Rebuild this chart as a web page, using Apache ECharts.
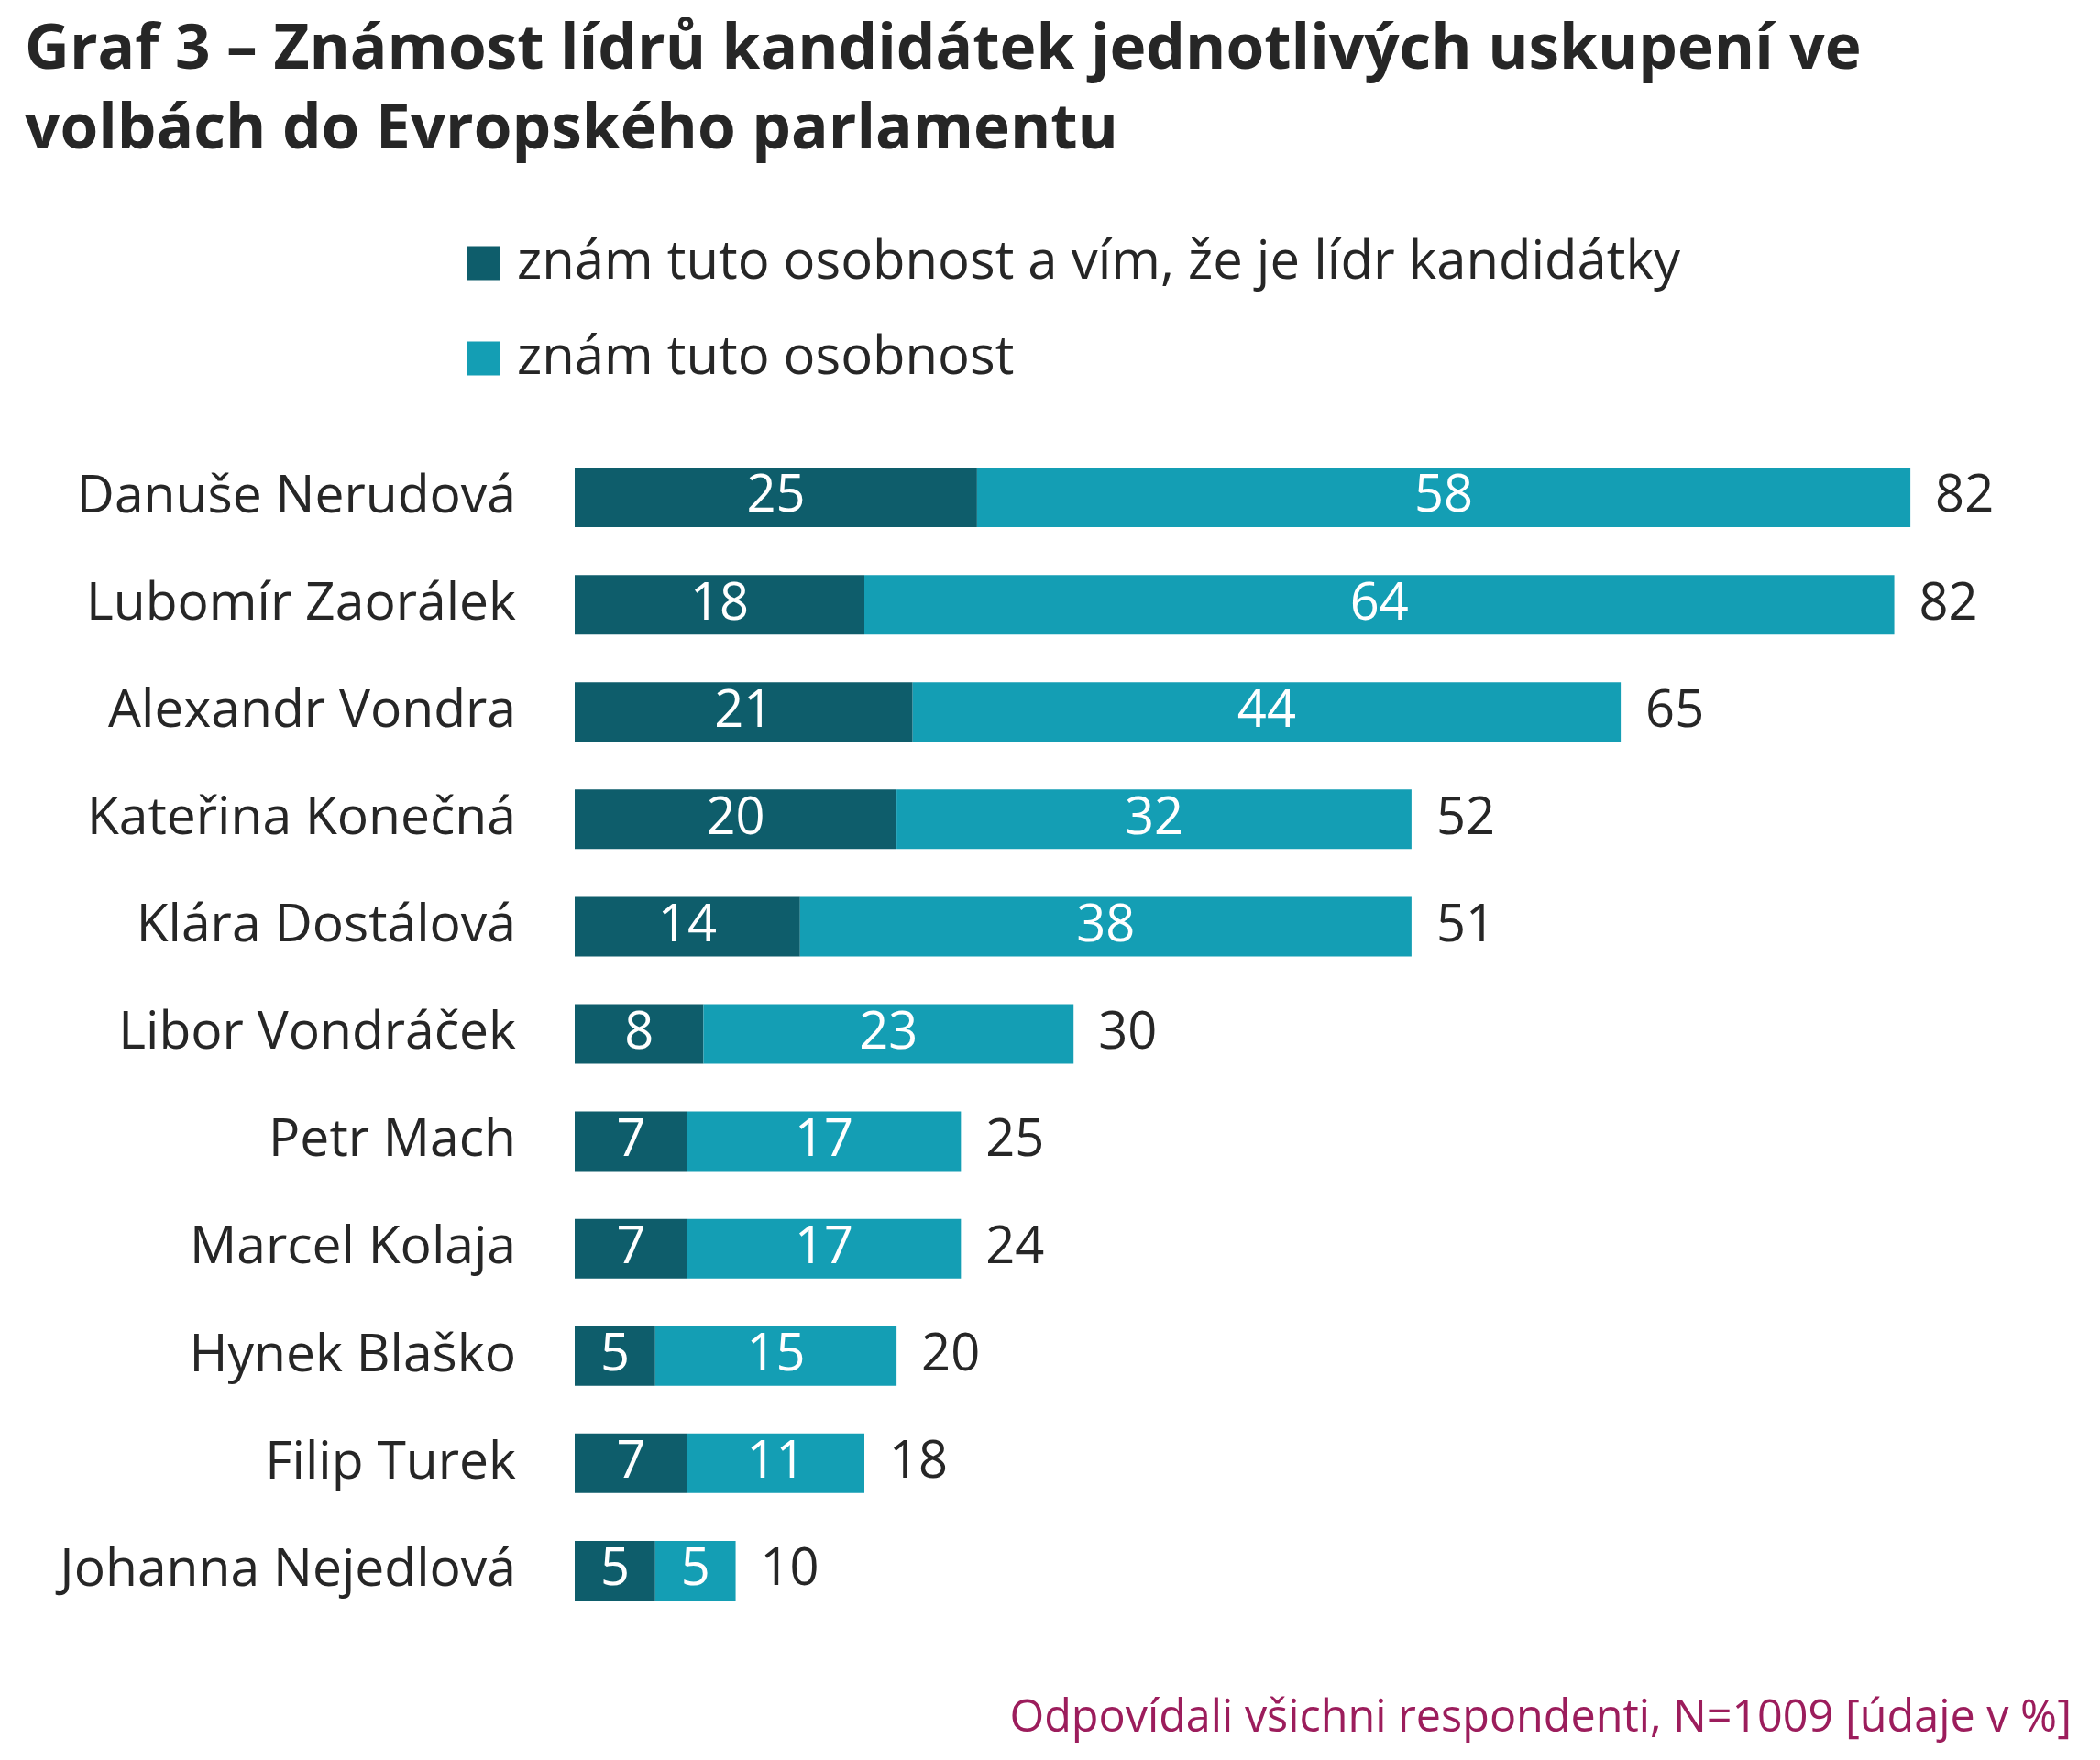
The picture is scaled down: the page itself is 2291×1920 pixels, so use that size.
<!DOCTYPE html>
<html>
<head>
<meta charset="utf-8">
<script src="https://cdn.jsdelivr.net/npm/echarts@6/dist/echarts.min.js"></script>
<style>
  html, body { margin: 0; padding: 0; background: #fff; }
  #chart { width: 2291px; height: 1920px; }
</style>
</head>
<body>
<div id="chart"></div>
<script>
  // data
  var names = ['Danuše Nerudová', 'Lubomír Zaorálek', 'Alexandr Vondra', 'Kateřina Konečná', 'Klára Dostálová',
    'Libor Vondráček', 'Petr Mach', 'Marcel Kolaja', 'Hynek Blaško', 'Filip Turek', 'Johanna Nejedlová']
  var knowLeader = [25, 18, 21, 20, 14, 8, 7, 7, 5, 7, 5]
  var knowPerson = [58, 64, 44, 32, 38, 23, 17, 17, 15, 11, 5]
  var totals = [82, 82, 65, 52, 51, 30, 25, 24, 20, 18, 10]
  var seriesNames = ['znám tuto osobnost a vím, že je lídr kandidátky', 'znám tuto osobnost']

  var font = "'Open Sans', sans-serif"
  var dark = '#0e5d6b'
  var light = '#149eb4'

  var chart = echarts.init(document.getElementById('chart'))
  chart.setOption({
    backgroundColor: '#ffffff',
    animation: false,
    title: [{
      text: 'Graf 3 – Známost lídrů kandidátek jednotlivých uskupení ve\nvolbách do Evropského parlamentu',
      left: 27,
      top: 12,
      padding: 0,
      textStyle: {
        fontFamily: font,
        fontSize: 67.5,
        fontWeight: 'bold',
        lineHeight: 87,
        color: '#262626'
      }
    }, {
      text: 'Odpovídali všichni respondenti, N=1009 [údaje v %]',
      right: 31,
      top: 1851,
      padding: 0,
      textStyle: {
        fontFamily: font,
        fontSize: 48.5,
        fontWeight: 'normal',
        color: '#9c1d5c'
      }
    }],
    legend: {
      data: seriesNames,
      orient: 'vertical',
      left: 509,
      top: 258,
      padding: 0,
      itemWidth: 37,
      itemHeight: 37,
      itemGap: 46,
      icon: 'rect',
      selectedMode: false,
      textStyle: {
        fontFamily: font,
        fontSize: 58,
        lineHeight: 37,
        color: '#262626',
        padding: [0, 0, 0, 13]
      }
    },
    grid: {
      left: 627,
      top: 484,
      height: 1288,
      right: 84,
      containLabel: false
    },
    xAxis: {
      type: 'value',
      min: 0,
      max: 90,
      show: false
    },
    yAxis: {
      type: 'category',
      data: names,
      inverse: true,
      axisLine: { show: false },
      axisTick: { show: false },
      splitLine: { show: false },
      axisLabel: {
        fontFamily: font,
        fontSize: 57,
        color: '#262626',
        margin: 64
      }
    },
    series: [
      {
        name: seriesNames[0],
        type: 'bar',
        stack: 'all',
        barWidth: 65,
        itemStyle: { color: dark },
        label: {
          show: true,
          position: 'inside',
          color: '#ffffff',
          fontFamily: font,
          fontSize: 56
        },
        data: knowLeader
      },
      {
        name: seriesNames[1],
        type: 'bar',
        stack: 'all',
        barWidth: 65,
        itemStyle: { color: light },
        label: {
          show: true,
          position: 'inside',
          color: '#ffffff',
          fontFamily: font,
          fontSize: 56
        },
        data: knowPerson
      },
      {
        // zero-width bar at the end of each stack, only carries the total
        name: 'celkem',
        type: 'bar',
        stack: 'all',
        barWidth: 65,
        silent: true,
        itemStyle: { color: 'transparent' },
        label: {
          show: true,
          position: 'right',
          distance: 27,
          color: '#262626',
          fontFamily: font,
          fontSize: 56,
          formatter: function (p) {
            return totals[p.dataIndex]
          }
        },
        data: names.map(function () { return 0 })
      }
    ]
  })
</script>
</body>
</html>
